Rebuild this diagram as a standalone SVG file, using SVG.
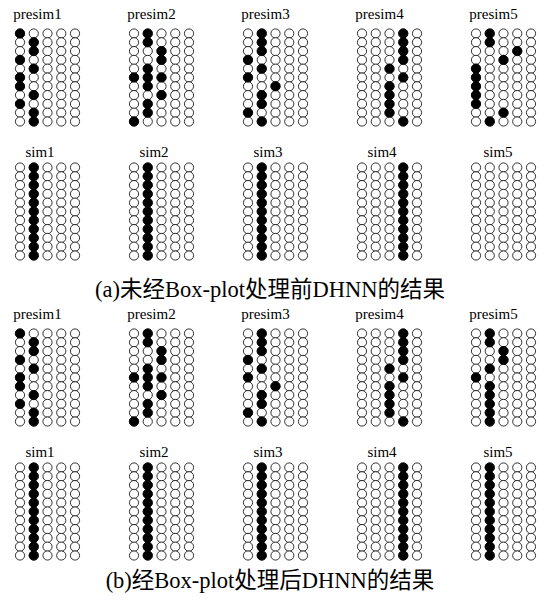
<svg xmlns="http://www.w3.org/2000/svg" width="540" height="600" viewBox="0 0 540 600">
<style>
.o{fill:#fff;stroke:#000;stroke-width:0.8}
.f{fill:#000;stroke:#000;stroke-width:0.8}
.lb{font-family:'Liberation Serif',serif;font-size:15px;text-anchor:middle;fill:#000}
.cap{font-family:'Liberation Serif','Noto Sans CJK SC',serif;font-size:22.5px;text-anchor:middle;fill:#000}
</style>
<defs>
<circle id="c" class="o" r="4.6"/>
<circle id="d" class="f" r="4.6"/>
<g id="col"><use href="#c" y="0"/><use href="#c" y="8.8"/><use href="#c" y="17.6"/><use href="#c" y="26.4"/><use href="#c" y="35.2"/><use href="#c" y="44"/><use href="#c" y="52.8"/><use href="#c" y="61.6"/><use href="#c" y="70.4"/><use href="#c" y="79.2"/><use href="#c" y="88"/></g>
<g id="fc"><use href="#d" y="0"/><use href="#d" y="8.8"/><use href="#d" y="17.6"/><use href="#d" y="26.4"/><use href="#d" y="35.2"/><use href="#d" y="44"/><use href="#d" y="52.8"/><use href="#d" y="61.6"/><use href="#d" y="70.4"/><use href="#d" y="79.2"/><use href="#d" y="88"/></g>
<g id="grid"><use href="#col" x="0"/><use href="#col" x="13.75"/><use href="#col" x="27.5"/><use href="#col" x="41.25"/><use href="#col" x="55"/></g>
</defs>
<rect width="540" height="600" fill="#fff"/>
<g id="connectors"/>

<!-- (a) presim -->
<g id="a-presim1"><text class="lb" x="37.5" y="19">presim1</text>
<g transform="translate(20,33.5)"><use href="#grid"/>
<use href="#d" x="0" y="0"/><use href="#d" x="0" y="26.4"/><use href="#d" x="0" y="44"/><use href="#d" x="0" y="52.8"/><use href="#d" x="0" y="70.4"/>
<use href="#d" x="13.75" y="8.8"/><use href="#d" x="13.75" y="17.6"/><use href="#d" x="13.75" y="35.2"/><use href="#d" x="13.75" y="61.6"/><use href="#d" x="13.75" y="79.2"/><use href="#d" x="13.75" y="88"/>
</g></g>
<g id="a-presim2"><text class="lb" x="151.5" y="19">presim2</text>
<g transform="translate(134,33.5)"><use href="#grid"/>
<use href="#d" x="0" y="44"/><use href="#d" x="0" y="88"/>
<use href="#d" x="13.75" y="0"/><use href="#d" x="13.75" y="8.8"/><use href="#d" x="13.75" y="35.2"/><use href="#d" x="13.75" y="44"/><use href="#d" x="13.75" y="52.8"/><use href="#d" x="13.75" y="70.4"/><use href="#d" x="13.75" y="79.2"/>
<use href="#d" x="27.5" y="17.6"/><use href="#d" x="27.5" y="26.4"/><use href="#d" x="27.5" y="44"/><use href="#d" x="27.5" y="61.6"/>
</g></g>
<g id="a-presim3"><text class="lb" x="265.5" y="19">presim3</text>
<g transform="translate(248,33.5)"><use href="#grid"/>
<use href="#d" x="0" y="26.4"/><use href="#d" x="0" y="44"/><use href="#d" x="0" y="79.2"/>
<use href="#d" x="13.75" y="0"/><use href="#d" x="13.75" y="8.8"/><use href="#d" x="13.75" y="17.6"/><use href="#d" x="13.75" y="35.2"/><use href="#d" x="13.75" y="61.6"/><use href="#d" x="13.75" y="70.4"/><use href="#d" x="13.75" y="88"/>
<use href="#d" x="27.5" y="52.8"/>
</g></g>
<g id="a-presim4"><text class="lb" x="379.5" y="19">presim4</text>
<g transform="translate(362,33.5)"><use href="#grid"/>
<use href="#d" x="27.5" y="35.2"/><use href="#d" x="27.5" y="52.8"/><use href="#d" x="27.5" y="61.6"/><use href="#d" x="27.5" y="70.4"/><use href="#d" x="27.5" y="79.2"/>
<use href="#d" x="41.25" y="0"/><use href="#d" x="41.25" y="8.8"/><use href="#d" x="41.25" y="17.6"/><use href="#d" x="41.25" y="26.4"/><use href="#d" x="41.25" y="44"/><use href="#d" x="41.25" y="88"/>
</g></g>
<g id="a-presim5"><text class="lb" x="493.5" y="19">presim5</text>
<g transform="translate(476,33.5)"><use href="#grid"/>
<use href="#d" x="0" y="35.2"/><use href="#d" x="0" y="44"/><use href="#d" x="0" y="52.8"/><use href="#d" x="0" y="61.6"/><use href="#d" x="0" y="70.4"/>
<use href="#d" x="13.75" y="0"/><use href="#d" x="13.75" y="8.8"/><use href="#d" x="13.75" y="88"/>
<use href="#d" x="27.5" y="26.4"/><use href="#d" x="27.5" y="79.2"/>
<use href="#d" x="41.25" y="17.6"/>
</g></g>

<!-- (a) sim -->
<g id="a-sim1"><text class="lb" x="40" y="157">sim1</text><g transform="translate(20,167.5)"><use href="#grid"/><use href="#fc" x="13.75"/></g></g>
<g id="a-sim2"><text class="lb" x="154" y="157">sim2</text><g transform="translate(134,167.5)"><use href="#grid"/><use href="#fc" x="13.75"/></g></g>
<g id="a-sim3"><text class="lb" x="268" y="157">sim3</text><g transform="translate(248,167.5)"><use href="#grid"/><use href="#fc" x="13.75"/></g></g>
<g id="a-sim4"><text class="lb" x="382" y="157">sim4</text><g transform="translate(362,167.5)"><use href="#grid"/><use href="#fc" x="41.25"/></g></g>
<g id="a-sim5"><text class="lb" x="498" y="157">sim5</text><g transform="translate(476,167.5)"><use href="#grid"/></g></g>

<text id="cap-a" class="cap" x="270" y="297">(a)未经Box-plot处理前DHNN的结果</text>

<!-- (b) presim -->
<g id="b-presim1"><text class="lb" x="37.5" y="319">presim1</text>
<g transform="translate(20,333.5)"><use href="#grid"/>
<use href="#d" x="0" y="0"/><use href="#d" x="0" y="26.4"/><use href="#d" x="0" y="44"/><use href="#d" x="0" y="52.8"/><use href="#d" x="0" y="70.4"/>
<use href="#d" x="13.75" y="8.8"/><use href="#d" x="13.75" y="17.6"/><use href="#d" x="13.75" y="35.2"/><use href="#d" x="13.75" y="61.6"/><use href="#d" x="13.75" y="79.2"/><use href="#d" x="13.75" y="88"/>
</g></g>
<g id="b-presim2"><text class="lb" x="151.5" y="319">presim2</text>
<g transform="translate(134,333.5)"><use href="#grid"/>
<use href="#d" x="0" y="44"/><use href="#d" x="0" y="88"/>
<use href="#d" x="13.75" y="0"/><use href="#d" x="13.75" y="8.8"/><use href="#d" x="13.75" y="35.2"/><use href="#d" x="13.75" y="44"/><use href="#d" x="13.75" y="52.8"/><use href="#d" x="13.75" y="70.4"/><use href="#d" x="13.75" y="79.2"/>
<use href="#d" x="27.5" y="17.6"/><use href="#d" x="27.5" y="26.4"/><use href="#d" x="27.5" y="44"/><use href="#d" x="27.5" y="61.6"/>
</g></g>
<g id="b-presim3"><text class="lb" x="265.5" y="319">presim3</text>
<g transform="translate(248,333.5)"><use href="#grid"/>
<use href="#d" x="0" y="26.4"/><use href="#d" x="0" y="44"/><use href="#d" x="0" y="79.2"/>
<use href="#d" x="13.75" y="0"/><use href="#d" x="13.75" y="8.8"/><use href="#d" x="13.75" y="17.6"/><use href="#d" x="13.75" y="35.2"/><use href="#d" x="13.75" y="61.6"/><use href="#d" x="13.75" y="70.4"/><use href="#d" x="13.75" y="88"/>
<use href="#d" x="27.5" y="52.8"/>
</g></g>
<g id="b-presim4"><text class="lb" x="379.5" y="319">presim4</text>
<g transform="translate(362,333.5)"><use href="#grid"/>
<use href="#d" x="27.5" y="35.2"/><use href="#d" x="27.5" y="52.8"/><use href="#d" x="27.5" y="61.6"/><use href="#d" x="27.5" y="70.4"/><use href="#d" x="27.5" y="79.2"/>
<use href="#d" x="41.25" y="0"/><use href="#d" x="41.25" y="8.8"/><use href="#d" x="41.25" y="17.6"/><use href="#d" x="41.25" y="26.4"/><use href="#d" x="41.25" y="44"/><use href="#d" x="41.25" y="88"/>
</g></g>
<g id="b-presim5"><text class="lb" x="493.5" y="319">presim5</text>
<g transform="translate(476,333.5)"><use href="#grid"/>
<use href="#d" x="0" y="44"/>
<use href="#d" x="13.75" y="0"/><use href="#d" x="13.75" y="8.8"/><use href="#d" x="13.75" y="35.2"/><use href="#d" x="13.75" y="52.8"/><use href="#d" x="13.75" y="61.6"/><use href="#d" x="13.75" y="70.4"/><use href="#d" x="13.75" y="79.2"/><use href="#d" x="13.75" y="88"/>
<use href="#d" x="27.5" y="17.6"/><use href="#d" x="27.5" y="26.4"/>
</g></g>

<!-- (b) sim -->
<g id="b-sim1"><text class="lb" x="40" y="457">sim1</text><g transform="translate(20,467.5)"><use href="#grid"/><use href="#fc" x="13.75"/></g></g>
<g id="b-sim2"><text class="lb" x="154" y="457">sim2</text><g transform="translate(134,467.5)"><use href="#grid"/><use href="#fc" x="13.75"/></g></g>
<g id="b-sim3"><text class="lb" x="268" y="457">sim3</text><g transform="translate(248,467.5)"><use href="#grid"/><use href="#fc" x="13.75"/></g></g>
<g id="b-sim4"><text class="lb" x="382" y="457">sim4</text><g transform="translate(362,467.5)"><use href="#grid"/><use href="#fc" x="41.25"/></g></g>
<g id="b-sim5"><text class="lb" x="498" y="457">sim5</text><g transform="translate(476,467.5)"><use href="#grid"/><use href="#fc" x="13.75"/></g></g>

<text id="cap-b" class="cap" x="270" y="588">(b)经Box-plot处理后DHNN的结果</text>
</svg>
